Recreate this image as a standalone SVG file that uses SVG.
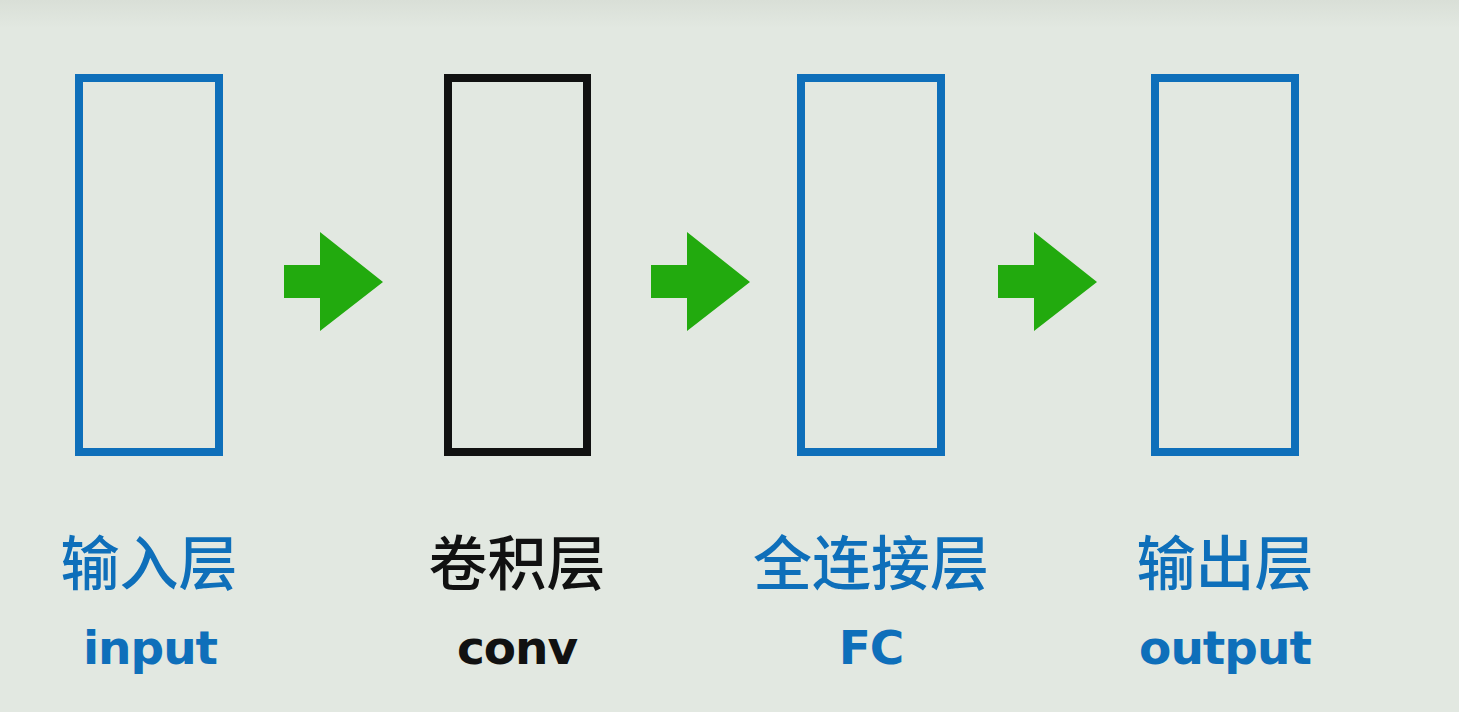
<svg xmlns="http://www.w3.org/2000/svg" width="1459" height="712" viewBox="0 0 1459 712">
<defs>
<linearGradient id="bg" x1="0" y1="0" x2="0" y2="1">
<stop offset="0" stop-color="#d9dfd7"/>
<stop offset="0.04" stop-color="#e2e8e1"/>
<stop offset="1" stop-color="#e2e8e1"/>
</linearGradient>
<polygon id="arr" points="0,-17 36,-17 36,-50 99,0 36,49 36,16 0,16" fill="#22aa0e"/>
</defs>
<style>
.box{fill:none;stroke-width:8}
.blue{stroke:#0e6fba}
.black{stroke:#111111}
.zh{font-family:"Noto Sans CJK SC",sans-serif;font-size:59px;font-weight:500;text-anchor:middle}
.en{font-family:"DejaVu Sans","Noto Sans",sans-serif;font-size:47px;font-weight:bold;text-anchor:middle;letter-spacing:-1px}
.tb{fill:#0e6fba}
.tk{fill:#111111}
</style>
<rect width="1459" height="712" fill="url(#bg)"/>
<g id="connectors">
<use href="#arr" x="284" y="282"/>
<use href="#arr" x="651" y="282"/>
<use href="#arr" x="998" y="282"/>
</g>
<g id="input">
<rect class="box blue" x="79" y="78" width="140" height="374"/>
<text class="zh tb" x="149" y="585">输入层</text>
<text class="en tb" x="150" y="664">input</text>
</g>
<g id="conv">
<rect class="box black" x="448" y="78" width="139" height="374"/>
<text class="zh tk" x="517" y="585">卷积层</text>
<text class="en tk" x="517" y="664">conv</text>
</g>
<g id="fc">
<rect class="box blue" x="801" y="78" width="140" height="374"/>
<text class="zh tb" x="871" y="585">全连接层</text>
<text class="en tb" x="871" y="664">FC</text>
</g>
<g id="output">
<rect class="box blue" x="1155" y="78" width="140" height="374"/>
<text class="zh tb" x="1225" y="585">输出层</text>
<text class="en tb" x="1225" y="664">output</text>
</g>
</svg>
